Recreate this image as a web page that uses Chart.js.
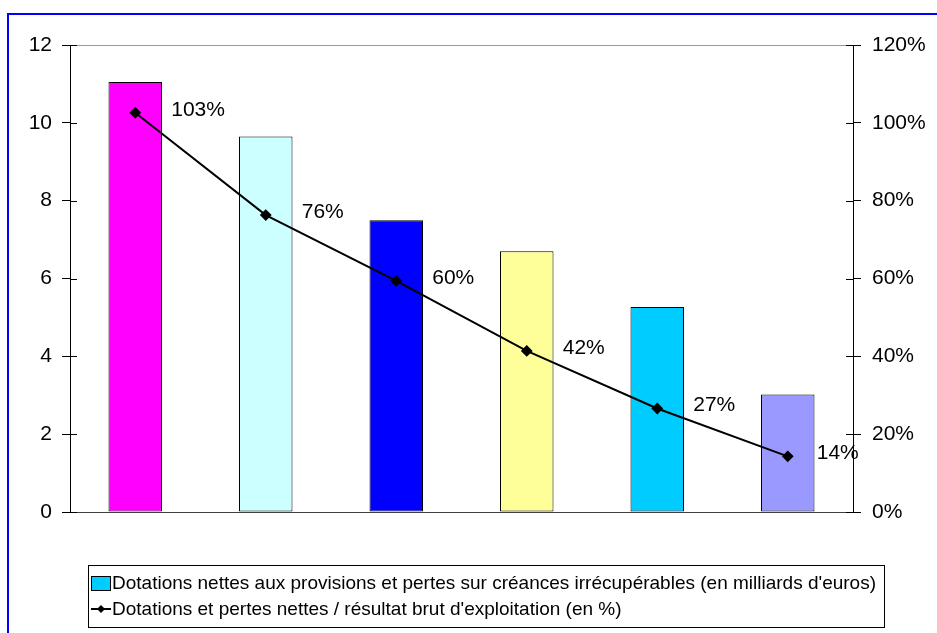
<!DOCTYPE html>
<html>
<head>
<meta charset="utf-8">
<script src="https://cdn.jsdelivr.net/npm/chart.js@4.4.0/dist/chart.umd.min.js"></script>
<style>
    body { margin: 0; background: #fff; }
    #wrap { width: 937px; height: 633px; }
</style>
</head>
<body>
<div id="wrap"><canvas id="chart" width="937" height="633"></canvas></div>
<script>
// Data
const categories = ['', '', '', '', '', ''];
const provisions = [11.05, 9.65, 7.5, 6.7, 5.27, 3.02];
const ratio = [102.6, 76.3, 59.4, 41.4, 26.6, 14.3];
const ratioLabels = ['103%', '76%', '60%', '42%', '27%', '14%'];
const barColors = ['#FF00FF', '#CCFFFF', '#0000FF', '#FFFF99', '#00CCFF', '#9999FF'];
const leftTicks = { min: 0, max: 12, step: 2 };
const rightTicks = { min: 0, max: 120, step: 20 };
const barSeriesName = "Dotations nettes aux provisions et pertes sur créances irrécupérables (en milliards d'euros)";
const lineSeriesName = "Dotations et pertes nettes / résultat brut d'exploitation (en %)";

const FONT = "'Liberation Sans', Arial, sans-serif";

// Blue frame around the whole chart
const framePlugin = {
    id: 'frame',
    beforeDraw(chart) {
        const ctx = chart.ctx;
        ctx.save();
        ctx.strokeStyle = '#0000FF';
        ctx.lineWidth = 2;
        ctx.strokeRect(8, 14, 1000, 1000);
        ctx.restore();
    }
};

// Tick marks crossing into the plot, like the original
const innerTicksPlugin = {
    id: 'innerTicks',
    afterDraw(chart) {
        const ctx = chart.ctx;
        const area = chart.chartArea;
        ctx.save();
        ctx.strokeStyle = '#000';
        ctx.lineWidth = 1;
        ['y', 'y1'].forEach(id => {
            const s = chart.scales[id];
            s.ticks.forEach(t => {
                const py = Math.round(s.getPixelForValue(t.value)) + 0.5;
                ctx.beginPath();
                if (id === 'y') {
                    ctx.moveTo(area.left, py);
                    ctx.lineTo(area.left + 7, py);
                } else {
                    ctx.moveTo(area.right, py);
                    ctx.lineTo(area.right - 7, py);
                }
                ctx.stroke();
            });
        });
        ctx.restore();
    }
};

// Percent labels next to the line points
const pointLabelsPlugin = {
    id: 'pointLabels',
    afterDatasetsDraw(chart) {
        const ctx = chart.ctx;
        const meta = chart.getDatasetMeta(1);
        ctx.save();
        ctx.font = '21px ' + FONT;
        ctx.fillStyle = '#000';
        ctx.textAlign = 'left';
        ctx.textBaseline = 'middle';
        meta.data.forEach((pt, i) => {
            const dx = i === meta.data.length - 1 ? 29 : 36;
            ctx.fillText(ratioLabels[i], pt.x + dx, pt.y - 3);
        });
        ctx.restore();
    }
};

// Boxed legend under the plot
const boxLegendPlugin = {
    id: 'boxLegend',
    afterDraw(chart) {
        const ctx = chart.ctx;
        ctx.save();
        ctx.strokeStyle = '#000';
        ctx.lineWidth = 1;
        ctx.strokeRect(88.5, 565.5, 796, 62);

        ctx.fillStyle = '#00CCFF';
        ctx.fillRect(91, 576, 19, 14);
        ctx.strokeRect(91.5, 576.5, 19, 14);

        ctx.lineWidth = 2;
        ctx.beginPath();
        ctx.moveTo(91, 609);
        ctx.lineTo(111, 609);
        ctx.stroke();
        ctx.fillStyle = '#000';
        ctx.beginPath();
        ctx.moveTo(101, 605);
        ctx.lineTo(105, 609);
        ctx.lineTo(101, 613);
        ctx.lineTo(97, 609);
        ctx.closePath();
        ctx.fill();

        ctx.font = '19px ' + FONT;
        ctx.textBaseline = 'middle';
        ctx.fillText(barSeriesName, 112, 584);
        ctx.fillText(lineSeriesName, 112, 610);
        ctx.restore();
    }
};

new Chart(document.getElementById('chart').getContext('2d'), {
    data: {
        labels: categories,
        datasets: [{
            type: 'bar',
            label: barSeriesName,
            data: provisions,
            yAxisID: 'y',
            backgroundColor: barColors,
            borderColor: '#000',
            borderWidth: 1,
            borderSkipped: false,
            barPercentage: 0.41,
            categoryPercentage: 1,
            order: 1
        }, {
            type: 'line',
            label: lineSeriesName,
            data: ratio,
            yAxisID: 'y1',
            borderColor: '#000',
            backgroundColor: '#000',
            borderWidth: 2,
            pointStyle: 'rectRot',
            pointRadius: 4.5,
            tension: 0,
            order: 0
        }]
    },
    options: {
        responsive: false,
        animation: false,
        layout: { padding: { top: 45, bottom: 121, left: 0, right: 0 } },
        plugins: {
            legend: { display: false },
            tooltip: { enabled: false }
        },
        scales: {
            x: {
                grid: { display: false },
                border: { display: true, color: '#404040', width: 1 },
                ticks: { display: false },
                afterFit: s => { s.height = 0; }
            },
            y: {
                position: 'left',
                min: leftTicks.min,
                max: leftTicks.max,
                afterFit: s => { s.width = 70; },
                ticks: {
                    stepSize: leftTicks.step,
                    color: '#000',
                    padding: 10,
                    font: { family: FONT, size: 21 }
                },
                grid: {
                    color: c => (c.tick && c.tick.value === leftTicks.max) ? '#999999' : 'rgba(0,0,0,0)',
                    tickColor: '#000',
                    tickLength: 8
                },
                border: { display: true, color: '#000' }
            },
            y1: {
                position: 'right',
                min: rightTicks.min,
                max: rightTicks.max,
                afterFit: s => { s.width = 84; },
                ticks: {
                    stepSize: rightTicks.step,
                    color: '#000',
                    padding: 11,
                    font: { family: FONT, size: 21 },
                    callback: v => v + '%'
                },
                grid: {
                    drawOnChartArea: false,
                    tickColor: '#000',
                    tickLength: 8
                },
                border: { display: true, color: '#000' }
            }
        }
    },
    plugins: [framePlugin, innerTicksPlugin, pointLabelsPlugin, boxLegendPlugin]
});
</script>
</body>
</html>
